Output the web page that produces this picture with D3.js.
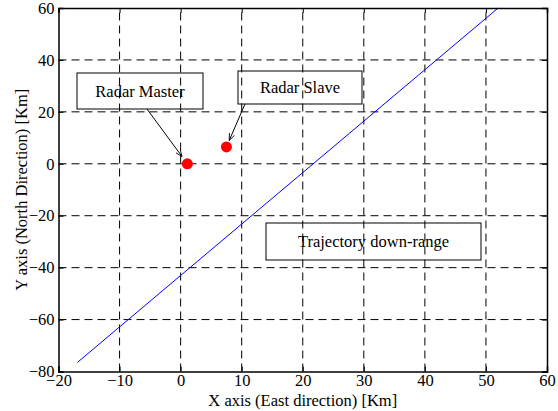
<!DOCTYPE html>
<html><head><meta charset="utf-8">
<script src="https://cdn.jsdelivr.net/npm/d3@7"></script>
<style>body{margin:0;background:#fff}svg{display:block}</style>
</head><body>
<script>
const xTicks = [-20,-10,0,10,20,30,40,50,60];
const yTicks = [-80,-60,-40,-20,0,20,40,60];
const trajX = [-16.9, 52.0];
const trajY = [-76.5, 60];
const radarNames = ["Radar Master","Radar Slave"];
const radarX = [1.1, 7.5];
const radarY = [0, 6.5];
const W=558,H=411;
const m={l:58.5,r:11,t:8,b:39.5};
const FF='"Liberation Serif"';
const FS=16.5;
const svg=d3.select("body").append("svg").attr("width",W).attr("height",H).attr("font-family",FF);
const x=d3.scaleLinear().domain([-20,60]).range([m.l,W-m.r]);
const y=d3.scaleLinear().domain([-80,60]).range([H-m.b,m.t]);
const g=svg.append("g");
// grid
g.selectAll(".gx").data(xTicks.slice(1,-1)).enter().append("line")
 .attr("x1",d=>x(d)).attr("x2",d=>x(d)).attr("y1",y(-80)).attr("y2",y(60))
 .attr("stroke","#000").attr("stroke-dasharray","8,5").attr("stroke-width",1);
g.selectAll(".gy").data(yTicks.slice(1,-1)).enter().append("line")
 .attr("y1",d=>y(d)).attr("y2",d=>y(d)).attr("x1",x(-20)).attr("x2",x(60))
 .attr("stroke","#000").attr("stroke-dasharray","8,5").attr("stroke-width",1);
// trajectory
const pts=trajX.map((d,i)=>[d,trajY[i]]);
g.append("path").datum(pts).attr("d",d3.line().x(d=>x(d[0])).y(d=>y(d[1])))
 .attr("fill","none").attr("stroke","#0000ff").attr("stroke-width",1);
// radars
g.selectAll(".r").data(radarX).enter().append("circle")
 .attr("cx",d=>x(d)).attr("cy",(d,i)=>y(radarY[i])).attr("r",5.5).attr("fill","#ff0000");
// axes
const ax=d3.axisBottom(x).tickValues(xTicks).tickSize(-5).tickPadding(3);
const ay=d3.axisLeft(y).tickValues(yTicks).tickSize(-5).tickPadding(4);
const gx=svg.append("g").attr("transform",`translate(0,${y(-80)})`).call(ax);
const gy=svg.append("g").attr("transform",`translate(${x(-20)},0)`).call(ay);
svg.append("g").attr("transform",`translate(0,${y(60)})`).call(d3.axisTop(x).tickValues(xTicks).tickSize(-5).tickFormat(""));
svg.append("g").attr("transform",`translate(${x(60)},0)`).call(d3.axisRight(y).tickValues(yTicks).tickSize(-5).tickFormat(""));
svg.selectAll("g").attr("font-family",FF);
svg.selectAll(".domain").attr("stroke","#000").attr("stroke-width",1.5);
svg.selectAll(".tick line").attr("stroke","#000");
svg.selectAll(".tick text").attr("font-size",FS).attr("fill","#000").attr("font-family",FF);
// labels
svg.append("text").attr("x",(x(-20)+x(60))/2).attr("y",406).attr("text-anchor","middle")
 .attr("font-size",FS).attr("font-family",FF).text("X axis (East direction) [Km]");
svg.append("text").attr("transform",`translate(27,${(y(-80)+y(60))/2}) rotate(-90)`).attr("text-anchor","middle")
 .attr("font-size",FS).attr("font-family",FF).text("Y axis (North Direction) [Km]");
// annotation boxes
const boxes=[
 {t:radarNames[0],x0:77,y0:73,x1:203,y1:109,ax:[147,109],tx:0},
 {t:radarNames[1],x0:238,y0:71,x1:362,y1:104,ax:[245,104],tx:1},
 {t:"Trajectory down-range",x0:266,y0:223,x1:481,y1:260}
];
const defs=svg.append("defs");
defs.append("marker").attr("id","ah").attr("viewBox","0 0 10 10").attr("refX",10).attr("refY",5)
 .attr("markerWidth",7).attr("markerHeight",7).attr("orient","auto")
 .append("path").attr("d","M0,1 L10,5 L0,9").attr("fill","none").attr("stroke","#000").attr("stroke-width",1.2);
boxes.forEach(b=>{
 svg.append("rect").attr("x",b.x0).attr("y",b.y0).attr("width",b.x1-b.x0).attr("height",b.y1-b.y0)
  .attr("fill","none").attr("stroke","#000").attr("stroke-width",1);
 svg.append("text").attr("x",(b.x0+b.x1)/2).attr("y",(b.y0+b.y1)/2+5.5).attr("text-anchor","middle")
  .attr("font-size",FS).attr("font-family",FF).text(b.t);
 if(b.ax){
  const i=b.tx;
  const tx=x(radarX[i]), ty=y(radarY[i]);
  const dx=tx-b.ax[0], dy=ty-b.ax[1], L=Math.hypot(dx,dy);
  svg.append("line").attr("x1",b.ax[0]).attr("y1",b.ax[1])
   .attr("x2",tx-dx/L*(i===0?9:7)).attr("y2",ty-dy/L*(i===0?9:7))
   .attr("stroke","#000").attr("stroke-width",1).attr("marker-end","url(#ah)");
 }
});
</script>
</body></html>
